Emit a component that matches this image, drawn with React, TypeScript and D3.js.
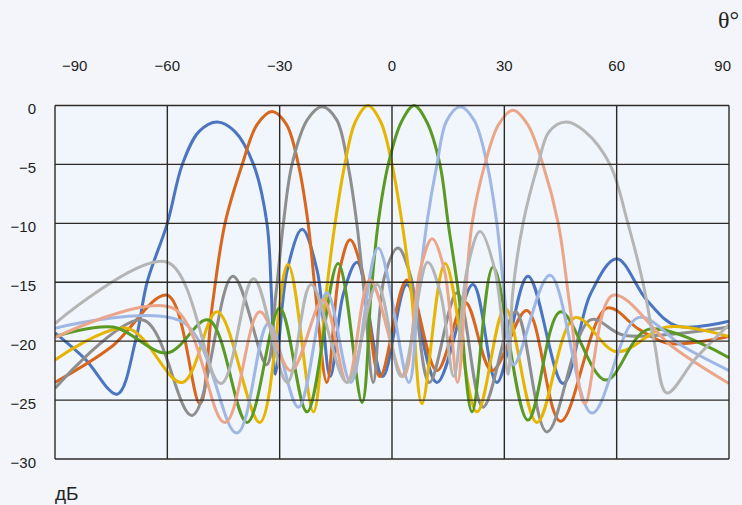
import React from "react";
import * as d3 from "d3";

// angle ticks (top) and level ticks (left)
const thetaTicks = [-90, -60, -30, 0, 30, 60, 90];
const dbTicks = [0, -5, -10, -15, -20, -25, -30];

// beam patterns: [theta deg, level dB]
const blueBeam = [
  [-90, -19.3], [-82, -21.5], [-73.4, -24.5], [-68.5, -20], [-65.4, -15], [-60, -10], [-56, -5],
  [-51.5, -2.2], [-46.7, -1.4], [-42, -2.2], [-37, -5], [-33.4, -10], [-32.2, -16],
  [-31.2, -22.8], [-28, -14], [-24, -10.5], [-20, -14], [-16.5, -23], [-13, -16], [-9.3, -13.3],
  [-2.5, -23], [4, -15.2], [12, -23.5], [21.6, -15.2], [28, -23.5], [36.3, -14.5],
  [45.7, -23.6], [53, -16], [60, -13], [68, -16.5], [76, -18.7], [90, -18.3],
];
const orangeBeam = [
  [-90, -23.5], [-75, -20.5], [-60, -16.1], [-51.3, -25.3], [-48, -17], [-44.6, -10], [-40, -5],
  [-36, -1.6], [-32, -0.5], [-28.2, -1.6], [-25, -5], [-22.4, -10], [-20.4, -16],
  [-17.4, -23.5], [-14, -14], [-11.2, -11.4], [-8, -14], [-3.2, -23],
  [4, -14.8], [12, -22.5], [19.5, -16.7], [26.7, -22.5], [36, -17.4], [45, -26.8],
  [57.4, -17.2], [66, -19], [74, -20.2], [90, -19.6],
];
const grayBeam = [
  [-90, -24], [-66.5, -18.2], [-53.4, -26.3], [-42.5, -14.5], [-33.5, -22], [-31, -16],
  [-29, -10], [-26.7, -5], [-22.6, -1.2], [-18.7, -0.1], [-14.8, -1.2], [-11.8, -5],
  [-9.4, -10], [-7.4, -16], [-5, -23.5], [-2, -14.5], [1.6, -12.1], [5, -14.5],
  [10, -23.5], [17.4, -15.9], [24.3, -25.6], [33, -17.5], [41.4, -27.7], [53, -18.2],
  [62, -19.5], [90, -18.8],
];
const yellowBeam = [
  [-90, -21.6], [-70.7, -18.9], [-56, -23.5], [-46.7, -17.5], [-35.3, -26.9], [-27.8, -13.5],
  [-21, -26], [-17.6, -16], [-15.2, -10], [-12.6, -5], [-9.8, -1.4], [-6.4, 0], [-3, -1.4],
  [0, -5], [2.7, -10], [5.2, -16], [8, -25.3],
  [14.2, -13.4], [22.7, -26], [30.2, -17.2], [38.7, -26.9], [48.9, -18], [60, -20.9],
  [73.4, -18.8], [90, -19.6],
];
const greenBeam = [
  [-90, -19.6], [-74.5, -18.8], [-60, -21], [-49, -18.2], [-38.7, -26.9], [-30, -17.2],
  [-22.7, -26], [-14.4, -13.4], [-8, -25.2], [-5.6, -16], [-3.7, -10], [-1, -5], [2.5, -1.4],
  [5.9, 0], [9.3, -1.4], [12.8, -5], [15, -10], [17.8, -16], [21.4, -26], [27, -13.7],
  [36.3, -26.7], [45, -17.5], [57, -23.3], [68.4, -19], [90, -21.4],
];
const lightBlueBeam = [
  [-90, -18.9], [-55.8, -18.4], [-41.4, -27.8], [-33, -18.5], [-25, -25.6], [-17.4, -15.9],
  [-11, -23.5], [-3.7, -12.1], [4.5, -23.5], [7, -16], [9.3, -10], [12, -5], [14.6, -1.3],
  [18.2, -0.1], [22, -1.3], [25.4, -5], [28, -10], [30, -16], [32.5, -22], [42.2, -14.4],
  [53.4, -26.1], [65.7, -18], [78, -20.5], [90, -22.5],
];
const salmonBeam = [
  [-90, -19.7], [-58.5, -17.2], [-44.6, -26.9], [-35.3, -17.5], [-27, -22.5], [-18.4, -16.5],
  [-12, -23.5], [-5.9, -14.8], [3, -23], [7.5, -14], [10.7, -11.3], [14, -14], [17.5, -23.5],
  [19.6, -16], [21.4, -10], [24.8, -5], [28.5, -1.6], [32.3, -0.4], [36.2, -1.6], [40.3, -5],
  [44.4, -10], [47.5, -17], [51.5, -25.3], [59, -16.1], [75, -20.5], [90, -23.6],
];
const lightGrayBeam = [
  [-90, -18.5], [-60, -13.3], [-45.7, -23.6], [-37, -14.7], [-28, -23.5], [-21.6, -15.2],
  [-12, -23.5], [-4, -15.2], [2.5, -23], [9.5, -13.3], [13, -16], [16.5, -23], [20, -14],
  [23.5, -10.7], [27.5, -14], [31, -22.8], [32.2, -16], [35, -10], [39, -5], [42, -2.2],
  [46.5, -1.4], [51.5, -2.2], [58.2, -5], [63, -10], [67, -15], [70, -20], [73.4, -24.4],
  [81, -21.5], [90, -18.6],
];

const beams = [
  { data: blueBeam, color: "#4b75c0" },
  { data: orangeBeam, color: "#d8661c" },
  { data: grayBeam, color: "#8e8e8e" },
  { data: yellowBeam, color: "#e6b500" },
  { data: greenBeam, color: "#5b9a22" },
  { data: lightBlueBeam, color: "#9fb7e4" },
  { data: salmonBeam, color: "#eba68a" },
  { data: lightGrayBeam, color: "#b5b5b5" },
];

const W = 742;
const H = 505;
const left = 55, right = 729, top = 105.5, bottom = 459;

function fmt(v: number) {
  return v < 0 ? "\u2212" + Math.abs(v) : String(v);
}

export default function App() {
  const x = d3.scaleLinear().domain([-90, 90]).range([left, right]);
  const y = d3.scaleLinear().domain([0, -30]).range([top, bottom]);

  const line = d3
    .line<number[]>()
    .x((d) => x(d[0]))
    .y((d) => y(d[1]))
    .curve(d3.curveCatmullRom.alpha(0.5));

  const font = "'Liberation Sans', Arial, sans-serif";

  return (
    <svg
      width={W}
      height={H}
      style={{ position: "absolute", left: 0, top: 0, display: "block" }}
    >
      <rect width={W} height={H} fill="#f3f5fa" />
      <rect x={left} y={top} width={right - left} height={bottom - top} fill="#f1f5fc" />

      <defs>
        <clipPath id="plot">
          <rect x={left} y={top - 4} width={right - left} height={bottom - top + 8} />
        </clipPath>
      </defs>

      {/* curves */}
      <g clipPath="url(#plot)" fill="none" strokeWidth={3} strokeLinejoin="round">
        {beams.map((b, i) => (
          <path key={i} d={line(b.data) || ""} stroke={b.color} />
        ))}
      </g>

      {/* grid */}
      <g stroke="#2c2a26" strokeWidth={1.4}>
        {thetaTicks.map((t) => (
          <line key={"v" + t} x1={x(t)} x2={x(t)} y1={top} y2={bottom} />
        ))}
        {dbTicks.map((v) => (
          <line key={"h" + v} x1={left} x2={right} y1={y(v)} y2={y(v)} />
        ))}
      </g>

      {/* tick labels */}
      <g fontFamily={font} fontSize={15} fill="#222">
        {thetaTicks.map((t, i) => (
          <text
            key={"tl" + t}
            x={i === 0 ? x(t) + 7 : i === thetaTicks.length - 1 ? x(t) + 2 : x(t)}
            y={71}
            textAnchor={i === 0 ? "start" : i === thetaTicks.length - 1 ? "end" : "middle"}
          >
            {fmt(t)}
          </text>
        ))}
        {dbTicks.map((v) => (
          <text key={"yl" + v} x={36} y={y(v) + 5} textAnchor="end" dominantBaseline="middle">
            {fmt(v)}
          </text>
        ))}
      </g>

      <text x={718} y={28} fontFamily="'Liberation Serif', 'DejaVu Serif', serif" fontSize={24} fill="#222">
        θ°
      </text>
      <text x={55} y={500} fontFamily={font} fontSize={19} fill="#222">
        дБ
      </text>
    </svg>
  );
}
